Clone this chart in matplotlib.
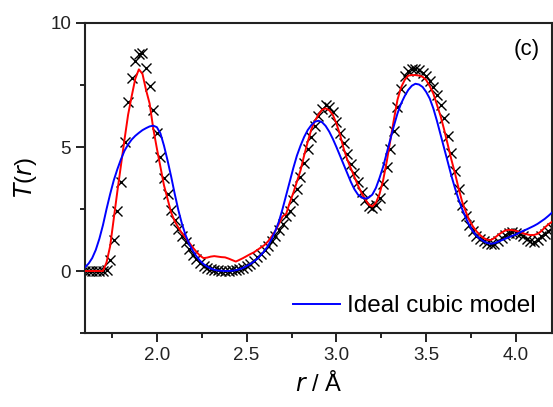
import numpy as np
import matplotlib
matplotlib.use("Agg")
import matplotlib.pyplot as plt
from matplotlib.ticker import MultipleLocator

plt.rcParams['font.family'] = ['Liberation Sans', 'DejaVu Sans']

r_start, r_step, n_pts = 1.60, 0.02, 131

t_exp = [0, 0, 0, 0, 0, 0, 0.05, 0.45, 1.25, 2.4,
         3.6, 5.2, 6.8, 7.8, 8.45, 8.75, 8.8, 8.2, 7.45, 6.5,
         5.55, 4.6, 3.75, 3.1, 2.45, 2.05, 1.7, 1.4, 1.15, 0.88,
         0.65, 0.48, 0.32, 0.2, 0.12, 0.07, 0.05, 0.03, 0.02, 0.02,
         0.02, 0.03, 0.05, 0.08, 0.13, 0.2, 0.28, 0.4, 0.55, 0.7,
         0.85, 1.02, 1.2, 1.42, 1.65, 1.9, 2.2, 2.4, 2.85, 3.3,
         3.8, 4.35, 4.9, 5.4, 5.85, 6.25, 6.55, 6.68, 6.62, 6.42,
         6.0, 5.55, 5.15, 4.7, 4.3, 3.95, 3.6, 3.2, 2.85, 2.62,
         2.55, 2.65, 2.95, 3.5, 4.2, 4.9, 5.65, 6.6, 7.35, 7.85,
         8.05, 8.15, 8.15, 8.1, 8.0, 7.85, 7.65, 7.4, 7.1, 6.7,
         6.15, 5.45, 4.75, 4.05, 3.3, 2.65, 2.2, 1.85, 1.62, 1.42,
         1.3, 1.2, 1.12, 1.08, 1.1, 1.2, 1.32, 1.45, 1.55, 1.58,
         1.55, 1.48, 1.4, 1.3, 1.22, 1.18, 1.25, 1.4, 1.5, 1.62,
         1.75]

t_fit = [0, 0, 0, 0, 0, 0, 0.35, 1.0, 2.1, 3.2,
         4.25, 5.3, 6.3, 7.05, 7.75, 8.13, 7.95, 7.3, 6.75, 5.75,
         4.95, 4.2, 3.45, 2.9, 2.35, 2.0, 1.75, 1.52, 1.35, 1.15,
         0.95, 0.78, 0.62, 0.52, 0.54, 0.58, 0.6, 0.58, 0.56, 0.55,
         0.5, 0.44, 0.38, 0.45, 0.52, 0.6, 0.68, 0.75, 0.85, 0.95,
         1.05, 1.2, 1.4, 1.62, 1.9, 2.2, 2.3, 2.75, 3.15, 3.6,
         4.05, 4.65, 5.2, 5.7, 6.05, 6.3, 6.5, 6.56, 6.48, 6.3,
         5.95, 5.5, 4.95, 4.5, 4.15, 3.8, 3.45, 3.15, 2.9, 2.68,
         2.6, 2.75, 3.1, 3.65, 4.4, 5.25, 6.1, 6.9, 7.4, 7.7,
         7.88, 7.9, 7.9, 7.88, 7.83, 7.7, 7.45, 7.15, 6.7, 6.25,
         5.7, 5.1, 4.5, 3.95, 3.35, 2.8, 2.4, 2.05, 1.8, 1.6,
         1.45, 1.33, 1.26, 1.25, 1.33, 1.45, 1.55, 1.63, 1.66, 1.65,
         1.62, 1.57, 1.52, 1.48, 1.45, 1.45, 1.5, 1.6, 1.75, 1.88,
         1.98]

t_cubic = [0.15, 0.3, 0.52, 0.85, 1.3, 1.85, 2.5, 3.1, 3.65, 4.1,
           4.5, 4.85, 5.1, 5.3, 5.45, 5.57, 5.68, 5.76, 5.83, 5.86,
           5.8, 5.55, 5.05, 4.45, 3.8, 3.1, 2.45, 1.9, 1.45, 1.1,
           0.82, 0.6, 0.42, 0.28, 0.18, 0.1, 0.05, 0.02, 0.01, 0.0,
           0.0, 0.01, 0.03, 0.07, 0.12, 0.2, 0.28, 0.38, 0.5, 0.65,
           0.82, 1.02, 1.3, 1.62, 2.0, 2.5, 3.05, 3.6, 4.15, 4.65,
           5.05, 5.4, 5.68, 5.88, 6.02, 6.06, 6.0, 5.85, 5.62, 5.33,
           5.0, 4.65, 4.3, 3.95, 3.6, 3.3, 3.08, 2.96, 2.92, 2.96,
           3.08, 3.35, 3.75, 4.2, 4.75, 5.3, 5.85, 6.35, 6.75, 7.05,
           7.3, 7.47, 7.55, 7.52, 7.42, 7.22, 6.95, 6.55, 6.05, 5.5,
           4.95, 4.4, 3.85, 3.35, 2.9, 2.5, 2.15, 1.85, 1.6, 1.42,
           1.3, 1.2, 1.13, 1.1, 1.12, 1.18, 1.24, 1.3, 1.36, 1.42,
           1.48, 1.55, 1.62, 1.68, 1.75, 1.82, 1.9, 2.0, 2.1, 2.22,
           2.35]

r = r_start + r_step * np.arange(n_pts)

fig = plt.figure(figsize=(5.53, 4.07), dpi=100)
ax = fig.add_axes([0.1537, 0.1818, 0.8443, 0.7617])

ax.plot(r, t_exp, linestyle='none', marker='x', color='black',
        markersize=7, markeredgewidth=1.0, zorder=2)
ax.plot(r, t_fit, color='#ff0000', linewidth=1.4, zorder=3)
ax.plot(r, t_cubic, color='#0000ff', linewidth=1.4, zorder=4,
        label='Ideal cubic model')

ax.set_xlim(1.6, 4.2)
ax.set_ylim(-2.5, 10)
ax.xaxis.set_major_locator(MultipleLocator(0.5))
ax.xaxis.set_minor_locator(MultipleLocator(0.25))
ax.yaxis.set_major_locator(MultipleLocator(5))
ax.yaxis.set_minor_locator(MultipleLocator(2.5))
ax.tick_params(which='major', direction='out', length=6.5, width=1.4,
               labelsize=13.5, top=False, right=False, colors='#222222')
ax.tick_params(which='minor', direction='out', length=3.5, width=1.4,
               top=False, right=False, colors='#222222')
ax.xaxis.set_major_formatter(matplotlib.ticker.FormatStrFormatter('%.1f'))
for s in ax.spines.values():
    s.set_linewidth(1.5)
    s.set_color('#222222')

ax.set_xlabel(r'$\it{r}$ / Å', fontsize=17, labelpad=5)
ax.set_ylabel(r'$\it{T}$($\it{r}$)', fontsize=17, labelpad=8)
ax.text(0.975, 0.915, '(c)', transform=ax.transAxes, fontsize=16,
        ha='right', va='center')
ax.legend(loc='lower right', frameon=False, fontsize=17.5,
          handlelength=1.95, handletextpad=0.3, borderaxespad=0.25)

fig.savefig('out.png', dpi=100)
